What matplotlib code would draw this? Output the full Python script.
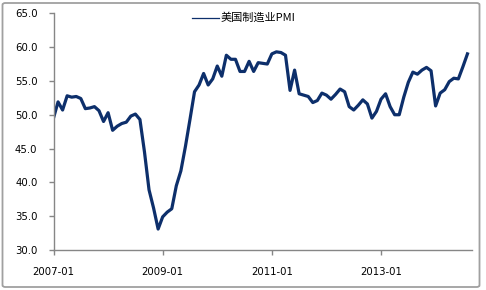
import matplotlib
matplotlib.use("Agg")
import matplotlib.pyplot as plt
from matplotlib.lines import Line2D
from matplotlib.patches import FancyBboxPatch

# ---------------------------------------------------------------------------
# Data: US manufacturing PMI, monthly 2007-01 .. 2014-08
# ---------------------------------------------------------------------------
pmi_2007 = [49.5, 51.9, 50.7, 52.8, 52.6, 52.7, 52.4, 50.9, 51.0, 51.2, 50.6, 49.0]
pmi_2008 = [50.3, 47.7, 48.3, 48.7, 48.9, 49.8, 50.1, 49.3, 44.5, 38.9, 36.2, 33.1]
pmi_2009 = [34.9, 35.6, 36.1, 39.5, 41.7, 45.3, 49.3, 53.4, 54.4, 56.1, 54.4, 55.3]
pmi_2010 = [57.2, 55.7, 58.8, 58.2, 58.2, 56.4, 56.4, 57.9, 56.4, 57.7, 57.6, 57.5]
pmi_2011 = [59.0, 59.3, 59.2, 58.8, 53.6, 56.6, 53.1, 52.9, 52.7, 51.8, 52.1, 53.2]
pmi_2012 = [52.9, 52.3, 53.0, 53.8, 53.4, 51.2, 50.7, 51.4, 52.2, 51.6, 49.5, 50.5]
pmi_2013 = [52.3, 53.1, 51.2, 50.0, 50.0, 52.6, 54.8, 56.3, 56.0, 56.6, 57.0, 56.5]
pmi_2014 = [51.3, 53.2, 53.7, 54.9, 55.4, 55.3, 57.1, 59.0]

pmi = pmi_2007 + pmi_2008 + pmi_2009 + pmi_2010 + pmi_2011 + pmi_2012 + pmi_2013 + pmi_2014
months = list(range(len(pmi)))

tick_pos = [0, 24, 48, 72]
tick_labels = ["2007-01", "2009-01", "2011-01", "2013-01"]
y_ticks = [30, 35, 40, 45, 50, 55, 60, 65]
series_name = "美国制造业PMI"

LINE_COLOR = "#0d2f6b"
AXIS_COLOR = "#868686"

# ---------------------------------------------------------------------------
# Plot
# ---------------------------------------------------------------------------
W, H = 486, 290
fig = plt.figure(figsize=(W / 100, H / 100), dpi=100)
fig.patch.set_facecolor("white")

# chart-area frame
frame = FancyBboxPatch((2.5 / W, 3 / H), 477 / W, 284 / H,
                       boxstyle="round,pad=0,rounding_size=0.006",
                       transform=fig.transFigure, facecolor="none",
                       edgecolor="#a0a0a0", lw=1.3)
fig.add_artist(frame)

ax = fig.add_axes([53.5 / W, 1 - 250 / H, (472 - 53.5) / W, (250 - 13.3) / H])
ax.plot(months, pmi, color=LINE_COLOR, lw=2.3, solid_joinstyle="round")

ax.set_xlim(0, 92)
ax.set_ylim(30, 65)
ax.set_yticks(y_ticks)
ax.set_yticklabels([f"{v:.1f}" for v in y_ticks])
ax.set_xticks(tick_pos)
ax.set_xticklabels(tick_labels)

for side in ("top", "right"):
    ax.spines[side].set_visible(False)
for side in ("left", "bottom"):
    ax.spines[side].set_color(AXIS_COLOR)
    ax.spines[side].set_linewidth(1.0)

ax.tick_params(axis="both", colors=AXIS_COLOR, labelcolor="black",
               labelsize=7.3, length=3.5, width=1.0)
ax.tick_params(axis="y", pad=8)
ax.tick_params(axis="x", pad=9)

# legend (thin line sample + label), top centre
fig.add_artist(Line2D([191.7 / W, 219.3 / W], [1 - 17.5 / H] * 2,
                      transform=fig.transFigure, color=LINE_COLOR, lw=0.9))
fig.text(221 / W, 1 - 17.5 / H, series_name, va="center", ha="left",
         fontsize=8, family=["Noto Sans CJK SC", "DejaVu Sans"], color="black")

fig.savefig("out.png", dpi=100)
